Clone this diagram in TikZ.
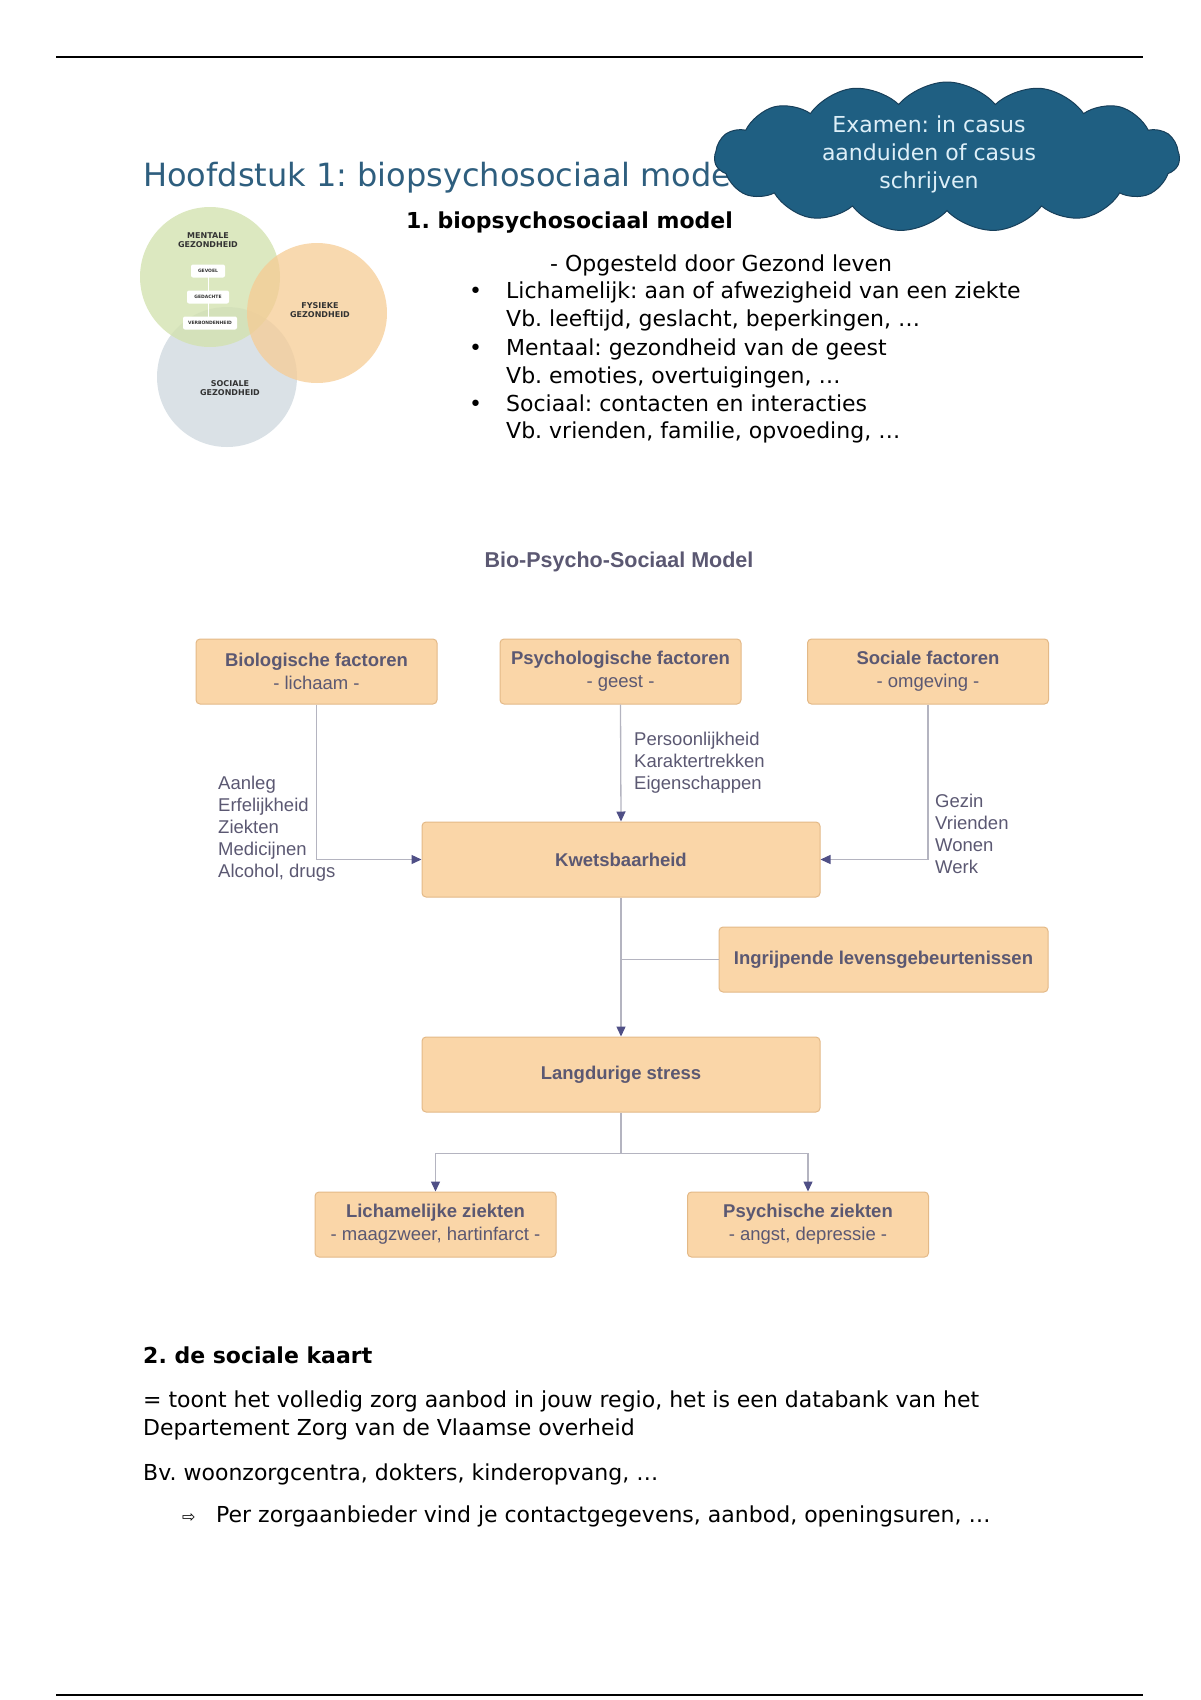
\documentclass[tikz,border=0pt]{standalone}
\usepackage{fontspec}
\setmainfont{DejaVu Sans}
\newfontfamily\diagfont{Liberation Sans}
\usetikzlibrary{arrows.meta,shapes.symbols,positioning}
\frenchspacing

\definecolor{titleblue}{HTML}{2E5E7E}
\definecolor{cloudfill}{HTML}{1F5F82}
\definecolor{cloudline}{HTML}{173F5A}
\definecolor{cloudtext}{HTML}{DDEFF8}
\definecolor{boxfill}{HTML}{FAD6A8}
\definecolor{boxline}{HTML}{E3B987}
\definecolor{boxtext}{HTML}{5B5872}
\definecolor{linkgrey}{HTML}{B4B4C0}
\definecolor{tipblue}{HTML}{4F4F86}
\definecolor{mentgreen}{HTML}{D3E2B0}
\definecolor{fysorange}{HTML}{F6CC94}
\definecolor{socgrey}{HTML}{D3DCE2}

\tikzset{
  body/.style={anchor=base west, inner sep=0pt, font=\fontsize{22}{28}\selectfont},
  factor/.style={draw=boxline, fill=boxfill, rounded corners=4pt, line width=1pt,
    align=center, text=boxtext, font=\diagfont\fontsize{18.5}{23}\selectfont,
    minimum width=241pt, minimum height=65pt, inner sep=0pt},
  link/.style={draw=linkgrey, line width=1.3pt},
  arr/.style={link, -{Triangle[length=10pt, width=9pt, color=tipblue]}},
  note/.style={anchor=north west, inner sep=0pt, align=left, text=boxtext,
    font=\diagfont\fontsize{18.5}{22}\selectfont},
  vennlbl/.style={font=\bfseries\fontsize{8}{9}\selectfont, align=center, text=black!80},
  vennbox/.style={fill=white, rounded corners=2pt, inner sep=2pt, minimum height=13pt,
    font=\bfseries\fontsize{4.5}{5}\selectfont, text=black!80}
}

\begin{document}
\begin{tikzpicture}[x=1pt, y=-1pt]
  \useasboundingbox (0,0) rectangle (1200,1700);

  \draw[line width=1.5pt] (56,57) -- (1143,57);
  \draw[line width=1.5pt] (56,1695) -- (1143,1695);

  % heading and cloud
  \node[body, text=titleblue, font=\fontsize{32}{38}\selectfont] (title) at (143,186) {Hoofdstuk 1: biopsychosociaal model};
  \node[cloud, cloud puffs=15, cloud puff arc=100, aspect=3.1, fill=cloudfill, draw=cloudline,
    line width=1pt, minimum width=465pt, minimum height=150pt] (exam) at (947,157) {};
  \node[align=center, text=cloudtext, font=\fontsize{22}{28}\selectfont] (examtxt) at (929,154)
    {Examen: in casus\\aanduiden of casus\\schrijven};

  % venn picture
  \fill[socgrey, opacity=0.85] (227,377) circle (70);
  \fill[mentgreen, opacity=0.8] (210,277) circle (70);
  \fill[fysorange, opacity=0.75] (317,313) circle (70);
  \node[vennlbl] (ment) at (208,240) {MENTALE\\GEZONDHEID};
  \node[vennlbl] (fys) at (320,310) {FYSIEKE\\GEZONDHEID};
  \node[vennlbl] (soc) at (230,388) {SOCIALE\\GEZONDHEID};
  \draw[white, line width=1pt] (208,271) -- (208,323);
  \node[vennbox, minimum width=34pt] (gev) at (208,271) {GEVOEL};
  \node[vennbox, minimum width=42pt] (ged) at (208,297) {GEDACHTE};
  \node[vennbox, minimum width=54pt] (ver) at (210,323) {VERBONDENHEID};

  % list
  \node[body, font=\bfseries\fontsize{22}{28}\selectfont] (sec1) at (406,228) {1. biopsychosociaal model};
  \node[body] (opg) at (550,271) {- Opgesteld door Gezond leven};
  \node[body] (l1) at (506,298) {Lichamelijk: aan of afwezigheid van een ziekte};
  \node[body] (l2) at (506,326) {Vb. leeftijd, geslacht, beperkingen, …};
  \node[body] (l3) at (506,355) {Mentaal: gezondheid van de geest};
  \node[body] (l4) at (506,383) {Vb. emoties, overtuigingen, …};
  \node[body] (l5) at (506,411) {Sociaal: contacten en interacties};
  \node[body] (l6) at (506,438) {Vb. vrienden, familie, opvoeding, …};
  \foreach \y in {298,355,411}
    \node[body] at (469,\y) {•};

  % flowchart
  \node[text=boxtext, font=\diagfont\bfseries\fontsize{21.5}{24}\selectfont] (bpstitle) at (619,562) {Bio-Psycho-Sociaal Model};

  \node[factor] (bio) at (316.5,671.5) {\textbf{Biologische factoren}\\- lichaam -};
  \node[factor] (psy) at (620.5,671.5) {\textbf{Psychologische factoren}\\- geest -};
  \node[factor] (sfac) at (928,671.5) {\textbf{Sociale factoren}\\- omgeving -};
  \node[factor, minimum width=398pt, minimum height=75pt, font=\diagfont\bfseries\fontsize{18.5}{23}\selectfont] (kwets) at (621,859.5) {Kwetsbaarheid};
  \node[factor, minimum width=329pt, font=\diagfont\bfseries\fontsize{18.5}{23}\selectfont] (ingr) at (883.5,959.5) {Ingrijpende levensgebeurtenissen};
  \node[factor, minimum width=398pt, minimum height=75pt, font=\diagfont\bfseries\fontsize{18.5}{23}\selectfont] (stress) at (621,1074.5) {Langdurige stress};
  \node[factor] (lich) at (435.5,1224.5) {\textbf{Lichamelijke ziekten}\\- maagzweer, hartinfarct -};
  \node[factor] (psych) at (808,1224.5) {\textbf{Psychische ziekten}\\- angst, depressie -};

  \draw[arr] (bio.south) |- (kwets.west);
  \draw[arr] (psy.south) -- (kwets.north);
  \draw[arr] (sfac.south) |- (kwets.east);
  \draw[arr] (kwets.south) -- (stress.north);
  \draw[link] (ingr.west) -- (ingr.west -| kwets.south);
  \coordinate (split) at ([yshift=-41pt]stress.south);
  \draw[link] (stress.south) -- (split);
  \draw[arr] (split) -| (lich.north);
  \draw[arr] (split) -| (psych.north);

  \node[note] (bionote) at (218,776) {Aanleg\\Erfelijkheid\\Ziekten\\Medicijnen\\Alcohol, drugs};
  \node[note] (psynote) at (634,732) {Persoonlijkheid\\Karaktertrekken\\Eigenschappen};
  \node[note] (socnote) at (935,794) {Gezin\\Vrienden\\Wonen\\Werk};

  % sociale kaart
  \node[body, font=\bfseries\fontsize{22}{28}\selectfont] (sec2) at (143,1363) {2. de sociale kaart};
  \node[body] (k1) at (143,1407) {= toont het volledig zorg aanbod in jouw regio, het is een databank van het};
  \node[body] (k2) at (143,1435) {Departement Zorg van de Vlaamse overheid};
  \node[body] (k3) at (143,1480) {Bv. woonzorgcentra, dokters, kinderopvang, …};
  \node[body, font=\fontsize{16}{20}\selectfont] (k4arrow) at (182,1522) {⇨};
  \node[body] (k4) at (216,1522) {Per zorgaanbieder vind je contactgegevens, aanbod, openingsuren, …};
\end{tikzpicture}
\end{document}
